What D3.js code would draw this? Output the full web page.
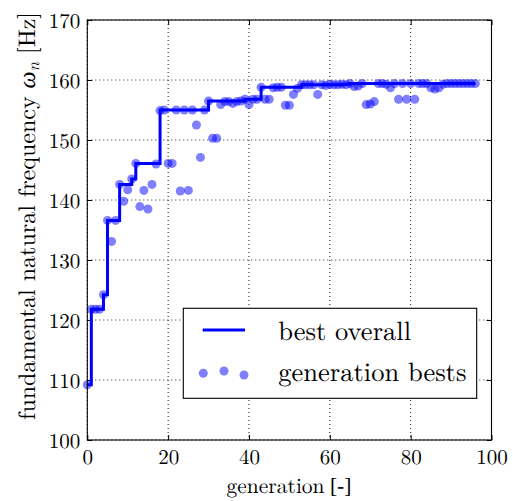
<!DOCTYPE html>
<html><head><meta charset="utf-8">
<script src="https://cdn.jsdelivr.net/npm/d3@7"></script>
<style>body{margin:0;background:#fff}svg{display:block}svg text{fill:#000;text-rendering:geometricPrecision;font-variant-ligatures:none}</style>
</head><body><svg id="c" width="513" height="501"></svg>
<script>
const generations = [0,1,2,3,4,5,6,7,8,9,10,11,12,13,14,15,16,17,18,19,20,21,22,23,24,25,26,27,28,29,30,31,32,33,34,35,36,37,38,39,40,41,42,43,44,45,46,47,48,49,50,51,52,53,54,55,56,57,58,59,60,61,62,63,64,65,66,67,68,69,70,71,72,73,74,75,76,77,78,79,80,81,82,83,84,85,86,87,88,89,90,91,92,93,94,95,96];
const generationBests = [109.2,121.8,121.8,121.8,124.2,136.6,133.1,136.6,142.6,139.8,141.7,143.5,146.1,138.9,141.6,138.5,142.6,146.0,154.9,155.0,146.1,146.1,155.0,141.5,155.0,141.6,155.0,152.5,147.1,155.0,156.5,150.3,150.3,155.9,156.4,156.4,156.1,156.4,156.5,156.8,155.9,156.8,156.8,158.8,156.8,156.8,158.7,158.8,158.8,155.8,155.8,157.6,158.6,159.2,159.2,159.2,159.2,157.6,159.2,159.1,159.3,159.2,159.2,159.3,159.2,159.4,158.9,159.0,159.4,155.9,156.0,156.4,159.4,159.4,159.3,158.7,159.4,156.8,159.4,156.8,159.4,156.8,159.4,159.4,159.4,158.7,158.5,158.7,159.3,159.4,159.4,159.4,159.4,159.4,159.4,159.4,159.4];
const bestOverall = [109.2,121.8,121.8,121.8,124.2,136.6,136.6,136.6,142.6,142.6,142.6,143.5,146.1,146.1,146.1,146.1,146.1,146.1,155.0,155.0,155.0,155.0,155.0,155.0,155.0,155.0,155.0,155.0,155.0,155.0,156.5,156.5,156.5,156.5,156.5,156.5,156.5,156.5,156.5,156.8,156.8,156.8,156.8,158.8,158.8,158.8,158.8,158.8,158.8,158.8,158.8,158.8,158.8,159.2,159.2,159.2,159.2,159.2,159.2,159.2,159.2,159.2,159.2,159.3,159.3,159.4,159.4,159.4,159.4,159.4,159.4,159.4,159.4,159.4,159.4,159.4,159.4,159.4,159.4,159.4,159.4,159.4,159.4,159.4,159.4,159.4,159.4,159.4,159.4,159.4,159.4,159.4,159.4,159.4,159.4,159.4,159.4];
const xTicks = [0,20,40,60,80,100];
const yTicks = [100,110,120,130,140,150,160,170];
const legendLabels = ["best overall","generation bests"];
const xLabelParts = ["generation", " [-]"];

const svg = d3.select("#c");
const FONT = '"Latin Modern Roman", "Liberation Serif", serif';
const L = 87.3, R = 491.5, T = 20, B = 440;
const x = d3.scaleLinear().domain([0,100]).range([L,R]);
const y = d3.scaleLinear().domain([100,170]).range([B,T]);

// grid
const grid = svg.append("g");
grid.selectAll("line.gx").data(xTicks).join("line")
  .attr("x1",d=>x(d)).attr("x2",d=>x(d)).attr("y1",T).attr("y2",B)
  .attr("stroke","#000").attr("stroke-width",0.9).attr("stroke-dasharray","1,3");
grid.selectAll("line.gy").data(yTicks).join("line")
  .attr("y1",d=>y(d)).attr("y2",d=>y(d)).attr("x1",L).attr("x2",R)
  .attr("stroke","#000").attr("stroke-width",0.9).attr("stroke-dasharray","1,3");

// axes with inward ticks
const xb = d3.axisBottom(x).tickValues(xTicks).tickSize(-5).tickPadding(9).tickFormat(d3.format("d"));
const xt = d3.axisTop(x).tickValues(xTicks).tickSize(-5).tickFormat("");
const yl = d3.axisLeft(y).tickValues(yTicks).tickSize(-5).tickPadding(8).tickFormat(d3.format("d"));
const yr = d3.axisRight(y).tickValues(yTicks).tickSize(-5).tickFormat("");
const gxb = svg.append("g").attr("transform",`translate(0,${B})`).call(xb);
const gxt = svg.append("g").attr("transform",`translate(0,${T})`).call(xt);
const gyl = svg.append("g").attr("transform",`translate(${L},0)`).call(yl);
const gyr = svg.append("g").attr("transform",`translate(${R},0)`).call(yr);
[gxb,gxt,gyl,gyr].forEach(g=>{
  g.attr("font-family",null);
  g.select(".domain").remove();
  g.selectAll(".tick line").attr("stroke","#000").attr("stroke-width",1);
  g.selectAll("text").style("font-family",FONT).style("font-size","21px").attr("fill","#000");
});
gxb.selectAll(".tick text").attr("dy","0.71em").attr("y",9);
gyl.selectAll(".tick text").attr("x",-7).attr("dy","0.34em");

// data line + points
const line = d3.line().x((d,i)=>x(generations[i])).y(d=>y(d)).curve(d3.curveStepAfter);
svg.append("path").datum(bestOverall).attr("d",line)
  .attr("fill","none").attr("stroke","#0000ff").attr("stroke-width",3).attr("stroke-linejoin","miter");
svg.append("g").selectAll("circle").data(generationBests).join("circle")
  .attr("cx",(d,i)=>x(generations[i])).attr("cy",d=>y(d)).attr("r",4.5)
  .attr("fill","#0000ff").attr("fill-opacity",0.5);

// frame
svg.append("rect").attr("x",L).attr("y",T).attr("width",R-L).attr("height",B-T)
  .attr("fill","none").attr("stroke","#000").attr("stroke-width",1.1);

function fit(sel, w){
  const n = sel.node();
  const cur = n.getComputedTextLength();
  const fs = parseFloat(sel.style("font-size"));
  if (cur > 0) sel.style("font-size", (Math.round(fs*w/cur*2)/2)+"px");
}

// x label
const xl = svg.append("text").attr("x",289).attr("y",493).attr("text-anchor","middle")
  .style("font-family",FONT).style("font-size","22px");
xl.append("tspan").text(xLabelParts[0]);
xl.append("tspan").style("font-family",'"Liberation Serif", serif').attr("fill","#000").text(xLabelParts[1]);
fit(xl,124);

// y label
const ylab = svg.append("text").attr("transform","translate(35,216) rotate(-90)")
  .attr("text-anchor","middle").style("font-family",FONT).style("font-size","23px");
ylab.append("tspan").text("fundamental natural frequency ");
ylab.append("tspan").attr("font-style","italic").text("ω");
ylab.append("tspan").attr("font-style","italic").style("font-size","0.7em").attr("dy",4).text("n");
ylab.append("tspan").attr("dy",-4).text(" [Hz]");
fit(ylab,408);

// legend
const lg = svg.append("g");
lg.append("rect").attr("x",183.3).attr("y",308.3).attr("width",293.4).attr("height",90)
  .attr("fill","#fff").attr("stroke","#000").attr("stroke-width",1.1);
lg.append("line").attr("x1",202.7).attr("x2",245).attr("y1",330).attr("y2",330)
  .attr("stroke","#0000ff").attr("stroke-width",3);
const legDots = [[203.3,373.3],[224,371],[244,375]];
lg.selectAll("circle").data(legDots).join("circle")
  .attr("cx",d=>d[0]).attr("cy",d=>d[1]).attr("r",4.5)
  .attr("fill","#0000ff").attr("fill-opacity",0.5);
const t1 = lg.append("text").attr("x",278.3).attr("y",340).style("font-family",FONT).style("font-size","26px").text(legendLabels[0]);
fit(t1,132);
const t2 = lg.append("text").attr("x",278.3).attr("y",381).style("font-family",FONT).style("font-size","26px").text(legendLabels[1]);
fit(t2,187);
</script></body></html>
